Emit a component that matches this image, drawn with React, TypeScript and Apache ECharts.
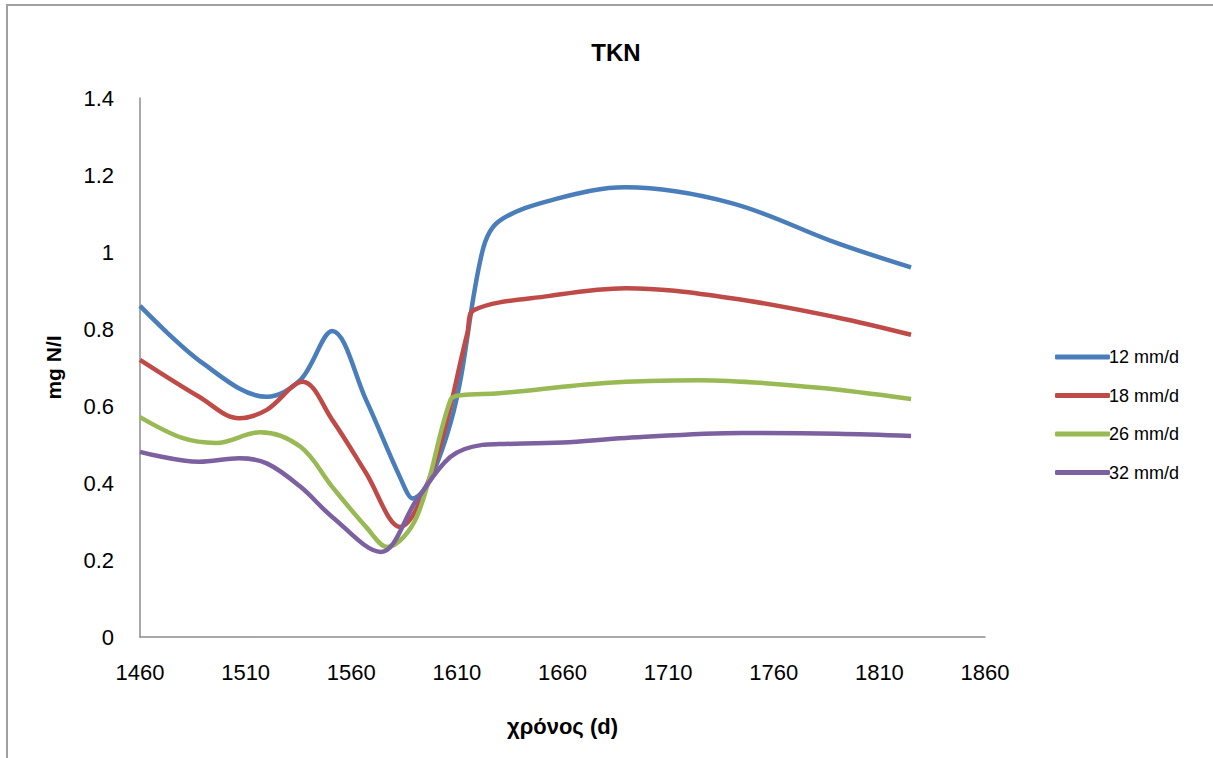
import React, { useEffect, useRef } from "react";
import * as echarts from "echarts";

const seriesNames = ["12 mm/d", "18 mm/d", "26 mm/d", "32 mm/d"];
const colors = ["#4A7EBB", "#BE4B48", "#98B954", "#7D60A0"];

const blueData: [number, number][] = [
  [1460, 0.86], [1490, 0.71], [1520, 0.624], [1536, 0.668], [1551, 0.795],
  [1567, 0.616], [1583, 0.416], [1589, 0.36], [1607, 0.556], [1622, 1.0], [1630, 1.08],
  [1657, 1.138], [1690, 1.168], [1740, 1.127], [1790, 1.023], [1825, 0.96],
];
const redData: [number, number][] = [
  [1460, 0.72], [1488, 0.624], [1507, 0.568], [1520, 0.59], [1537, 0.663], [1551, 0.564],
  [1567, 0.426], [1583, 0.286], [1599, 0.442], [1615, 0.79], [1618, 0.849], [1654, 0.886],
  [1690, 0.906], [1740, 0.88], [1790, 0.83], [1825, 0.785],
];
const greenData: [number, number][] = [
  [1460, 0.571], [1480, 0.517], [1496, 0.504], [1517, 0.532], [1536, 0.494], [1551, 0.39],
  [1567, 0.286], [1577, 0.234], [1591, 0.312], [1607, 0.616], [1612, 0.628], [1630, 0.633],
  [1680, 0.66], [1725, 0.667], [1780, 0.648], [1825, 0.618],
];
const purpleData: [number, number][] = [
  [1460, 0.481], [1488, 0.455], [1507, 0.464], [1520, 0.451], [1536, 0.39], [1551, 0.312],
  [1574, 0.221], [1591, 0.356], [1607, 0.468], [1622, 0.499], [1630, 0.501], [1660, 0.505],
  [1690, 0.517], [1745, 0.53], [1790, 0.528], [1825, 0.522],
];

const allData = [blueData, redData, greenData, purpleData];

const xMin = 1460;
const xMax = 1860;
const xStep = 50;
const yMin = 0;
const yMax = 1.4;
const yStep = 0.2;

export default function App() {
  const ref = useRef<HTMLDivElement>(null);
  useEffect(() => {
    if (!ref.current) return;
    const chart = echarts.init(ref.current, undefined, { renderer: "svg" });
    const font = "'Liberation Sans', Arial, sans-serif";
    chart.setOption({
      animation: false,
      backgroundColor: "#ffffff",
      textStyle: { fontFamily: font },
      title: {
        text: "TKN",
        left: 611,
        top: 35,
        textAlign: "center",
        textStyle: { fontSize: 24, fontWeight: "bold", color: "#000", fontFamily: font },
      },
      graphic: [
        {
          type: "polyline",
          shape: { points: [[7, 800], [7, 5], [1300, 5]] },
          style: { stroke: "#a0a0a0", lineWidth: 2, fill: "none" },
          silent: true,
        },
      ],
      legend: {
        orient: "vertical",
        left: 1050,
        top: 343,
        itemWidth: 55,
        itemHeight: 5,
        itemGap: 20.5,
        icon: "roundRect",
        textStyle: { fontSize: 18, color: "#000", fontFamily: font, padding: [0, 0, 0, -6] },
        data: seriesNames,
      },
      grid: { left: 140, right: 228, top: 98, bottom: 121 },
      xAxis: {
        type: "value",
        min: xMin,
        max: xMax,
        interval: xStep,
        name: "χρόνος (d)",
        nameLocation: "middle",
        nameGap: 78,
        nameTextStyle: { fontSize: 22, fontWeight: "bold", color: "#000", fontFamily: font },
        axisLine: { show: true, lineStyle: { color: "#8c8c8c", width: 1.5 } },
        axisTick: { show: false },
        splitLine: { show: false },
        axisLabel: {
          fontSize: 22,
          color: "#000",
          margin: 24,
          fontFamily: font,
          formatter: (v: number) => String(v),
        },
      },
      yAxis: {
        type: "value",
        min: yMin,
        max: yMax,
        interval: yStep,
        name: "mg N/I",
        nameLocation: "middle",
        nameGap: 76,
        nameRotate: 90,
        nameTextStyle: { fontSize: 21, fontWeight: "bold", color: "#000", fontFamily: font },
        axisLine: { show: true, lineStyle: { color: "#8c8c8c", width: 1.5 } },
        axisTick: { show: false },
        splitLine: { show: false },
        axisLabel: {
          fontSize: 22,
          color: "#000",
          margin: 26,
          fontFamily: font,
          formatter: (v: number) => String(Math.round(v * 10) / 10),
        },
      },
      series: seriesNames.map((name, i) => ({
        name,
        type: "line",
        data: allData[i],
        smooth: 0.35,
        showSymbol: false,
        symbol: "none",
        lineStyle: { color: colors[i], width: 4.5 },
        itemStyle: { color: colors[i] },
      })),
    });
    return () => chart.dispose();
  }, []);
  return (
    <div
      ref={ref}
      style={{ position: "fixed", left: 0, top: 0, width: 1213, height: 758 }}
    />
  );
}
